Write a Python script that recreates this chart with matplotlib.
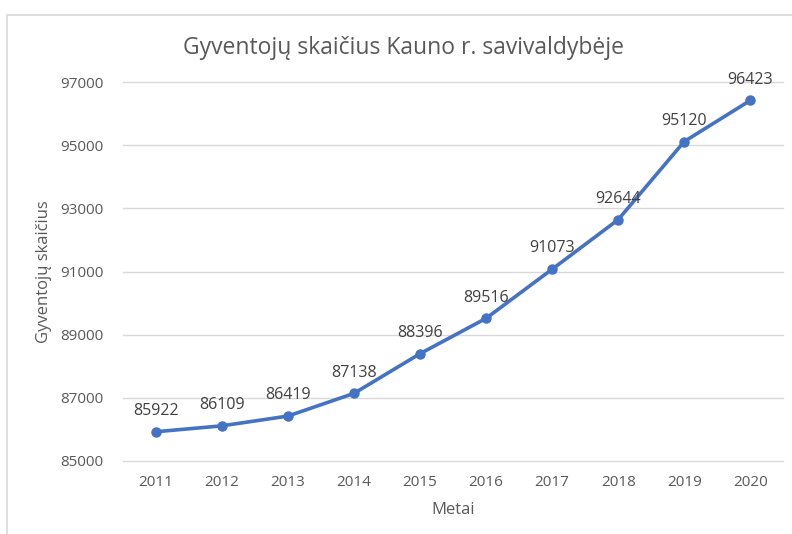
import numpy as np
import matplotlib.pyplot as plt
from matplotlib.patches import Rectangle

plt.rcParams['font.family'] = ['Open Sans', 'DejaVu Sans']

metai = ['2011', '2012', '2013', '2014', '2015', '2016', '2017', '2018', '2019', '2020']
gyventojai = [85922, 86109, 86419, 87138, 88396, 89516, 91073, 92644, 95120, 96423]

grey = '#595959'
fig = plt.figure(figsize=(7.92, 5.34), dpi=100)
ax = fig.add_axes([0.155, 0.137, 0.834, 0.709])

# chart frame (Excel style)
fig.patches.append(Rectangle((7 / 792, -0.1), 1.2, 1 - 15 / 534 + 0.1,
                             transform=fig.transFigure, fill=False,
                             edgecolor='#d9d9d9', linewidth=1.2))

x = np.arange(len(metai))
ax.plot(x, gyventojai, color='#4472C4', linewidth=2.6, marker='o',
        markersize=6.5, solid_capstyle='round', zorder=3)
for xi, v in zip(x, gyventojai):
    ax.annotate(str(v), (xi, v), xytext=(0, 15), textcoords='offset points',
                ha='center', va='center', fontsize=11.5, color='#404040')

ax.set_xlim(-0.5, len(metai) - 0.5)
ax.set_ylim(85000, 97000)
ax.set_yticks(np.arange(85000, 97001, 2000))
ax.set_xticks(x)
ax.set_xticklabels(metai)
ax.grid(axis='y', color='#d9d9d9', linewidth=1)
for gl in ax.get_ygridlines():
    gl.set_clip_on(False)
ax.set_axisbelow(True)
for s in ax.spines.values():
    s.set_visible(False)
ax.tick_params(length=0, colors=grey, labelsize=11)
ax.tick_params(axis='y', pad=14)
ax.tick_params(axis='x', pad=10)

ax.set_xlabel('Metai', fontsize=12, color=grey, labelpad=9)
ax.set_ylabel('Gyventojų skaičius', fontsize=12, color=grey, labelpad=6)
fig.text(0.51, 0.91, 'Gyventojų skaičius Kauno r. savivaldybėje',
         ha='center', va='center', fontsize=16.5, color=grey)

fig.savefig('out.png', dpi=100)
